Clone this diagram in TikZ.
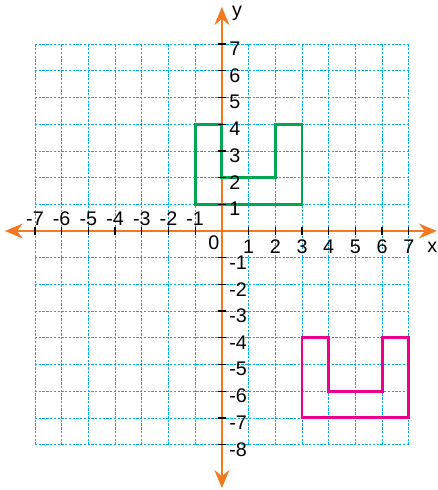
\documentclass[tikz,border=0pt]{standalone}
\usepackage{fontspec}
\setmainfont{Liberation Sans}
\usetikzlibrary{arrows.meta}

\definecolor{gridblue}{RGB}{0,174,239}
\definecolor{axisorange}{RGB}{242,121,32}
\definecolor{shapegreen}{RGB}{0,166,81}
\definecolor{shapepink}{RGB}{236,0,140}

\tikzset{
    gridline/.style={gridblue, line width=0.7pt, dash pattern=on 2.5pt off 1.5pt},
    axisline/.style={axisorange, line width=2.8pt, {Stealth[length=0.67cm,width=0.55cm]}-{Stealth[length=0.67cm,width=0.55cm]}},
    tickmark/.style={black, line width=1.4pt},
    ticklabel/.style={font=\fontsize{21}{23}\selectfont, inner sep=0pt},
    figline/.style={line width=3pt, line join=miter},
}

\begin{document}
\begin{tikzpicture}

        \useasboundingbox (-8.31,-9.70) rectangle (8.09,8.65);

        % grid
        \draw[gridline] (-7,-8) grid (7,7);

        % axes
        \coordinate (xmin) at (-8.13,0);
        \coordinate (xmax) at (8.05,0);
        \coordinate (ymin) at (0,-9.63);
        \coordinate (ymax) at (0,8.39);
        \draw[axisline] (xmin) -- (xmax);
        \draw[axisline] (ymin) -- (ymax);

        % figures
        \draw[figline, shapegreen] (-1,1) -- (3,1) -- (3,4) -- (2,4) -- (2,2) -- (0,2) -- (0,4) -- (-1,4) -- cycle;
        \draw[figline, shapepink] (3,-7) -- (7,-7) -- (7,-4) -- (6,-4) -- (6,-6) -- (4,-6) -- (4,-4) -- (3,-4) -- cycle;

        % ticks
        \foreach \i in {-7,...,-1,1,2,...,7} {
            \draw[tickmark] (\i,-0.15) -- (\i,0.15);
        }
        \foreach \j in {-8,...,-1,1,2,...,7} {
            \draw[tickmark] (-0.15,\j) -- (0.15,\j);
        }

        % labels
        \foreach \i in {-7,...,-1} {
            \node[ticklabel] (xl\i) at (\i,0.47) {\i};
        }
        \foreach \i in {1,...,7} {
            \node[ticklabel] (xl\i) at (\i,-0.58) {\i};
        }
        \foreach \j in {-8,...,-1,1,2,...,7} {
            \node[ticklabel, anchor=west] (yl\j) at (0.27,\j-0.18) {\j};
        }
        \node[ticklabel] (orig) at (-0.3,-0.45) {0};
        \node[ticklabel] (xname) at (7.88,-0.62) {x};
        \node[ticklabel] (yname) at (0.57,8.15) {y};

\end{tikzpicture}
\end{document}
